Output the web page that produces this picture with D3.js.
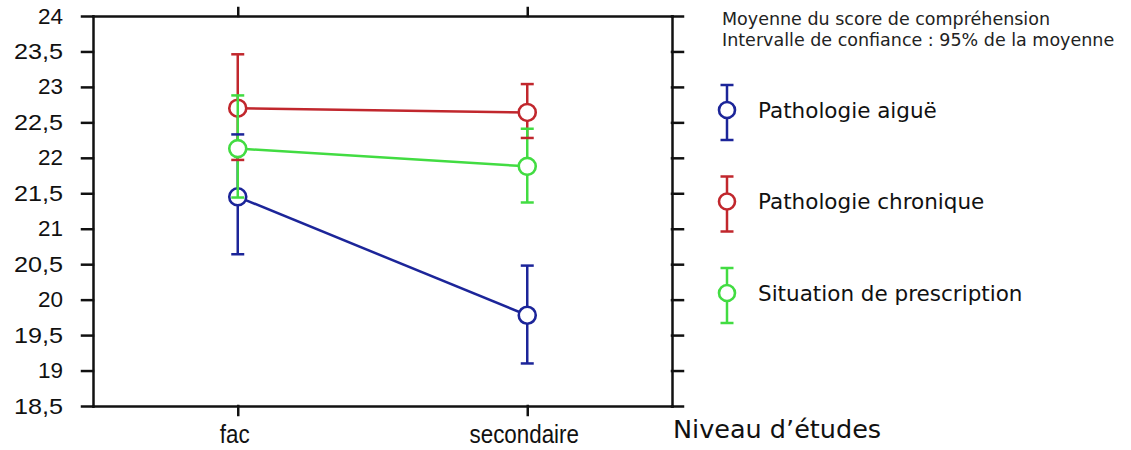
<!DOCTYPE html>
<html>
<head>
<meta charset="utf-8">
<script src="https://cdn.jsdelivr.net/npm/d3@7"></script>
<style>
body { margin: 0; background: #fff; }
.axis path, .axis line { stroke: #111; stroke-width: 2.5; stroke-linecap: square; }
</style>
</head>
<body>
<div id="chart"></div>
<script>
var categories = ["fac", "secondaire"];
var seriesNames = ["Pathologie aiguë", "Pathologie chronique", "Situation de prescription"];

// moyennes et bornes de l'intervalle de confiance a 95%
var aigueMean = [21.45, 19.78];
var aigueLow = [20.64, 19.1];
var aigueHigh = [22.33, 20.48];
var chroniqueMean = [22.7, 22.64];
var chroniqueLow = [21.97, 22.28];
var chroniqueHigh = [23.46, 23.04];
var prescriptionMean = [22.13, 21.88];
var prescriptionLow = [21.44, 21.37];
var prescriptionHigh = [22.88, 22.41];

var yTicks = [18.5, 19, 19.5, 20, 20.5, 21, 21.5, 22, 22.5, 23, 23.5, 24];
var yTickLabels = ["18,5", "19", "19,5", "20", "20,5", "21", "21,5", "22", "22,5", "23", "23,5", "24"];
var legendTitle = ["Moyenne du score de compréhension", "Intervalle de confiance : 95% de la moyenne"];
var xTitle = "Niveau d’études";

var colors = ["#1c2599", "#c1272d", "#42dc42"];

var series = [
  { name: seriesNames[0], mean: aigueMean, low: aigueLow, high: aigueHigh, color: colors[0] },
  { name: seriesNames[1], mean: chroniqueMean, low: chroniqueLow, high: chroniqueHigh, color: colors[1] },
  { name: seriesNames[2], mean: prescriptionMean, low: prescriptionLow, high: prescriptionHigh, color: colors[2] }
];

var svgWidth = 1131;
var svgHeight = 450;
var plot = { left: 93, right: 672, top: 16, bottom: 406 };

var svg = d3.select("#chart")
  .append("svg")
  .attr("width", svgWidth)
  .attr("height", svgHeight)
  .style("font-family", "'Liberation Sans', Arial, sans-serif");

var x = d3.scalePoint()
  .domain(categories)
  .range([plot.left, plot.right])
  .padding(0.5);

var y = d3.scaleLinear()
  .domain([18.5, 24])
  .range([plot.bottom, plot.top]);

// cadre : quatre axes
svg.append("g")
  .attr("class", "axis")
  .attr("transform", `translate(${plot.left}, 0)`)
  .call(d3.axisLeft(y).tickValues(yTicks).tickSize(11).tickSizeOuter(0).tickPadding(19)
    .tickFormat((d, i) => yTickLabels[i]))
  .call(g => g.selectAll("text")
    .attr("fill", "#111")
    .style("font-size", "22px")
    .attr("textLength", d => String(d).length > 2 ? 49 : 25)
    .attr("lengthAdjust", "spacingAndGlyphs"));

svg.append("g")
  .attr("class", "axis")
  .attr("transform", `translate(${plot.right}, 0)`)
  .call(d3.axisRight(y).tickValues(yTicks).tickSize(11).tickSizeOuter(0).tickFormat(""));

svg.append("g")
  .attr("class", "axis")
  .attr("transform", `translate(0, ${plot.top})`)
  .call(d3.axisTop(x).tickSize(8).tickSizeOuter(0).tickFormat(""));

svg.append("g")
  .attr("class", "axis")
  .attr("transform", `translate(0, ${plot.bottom})`)
  .call(d3.axisBottom(x).tickSize(9).tickSizeOuter(0).tickFormat(""));

svg.selectAll(".axis .domain").attr("fill", "none");

// etiquettes des categories, police un peu etroite
svg.selectAll(".xlabel")
  .data(categories)
  .enter()
  .append("text")
  .attr("class", "xlabel")
  .attr("x", d => x(d) - 3)
  .attr("y", 443)
  .attr("text-anchor", "middle")
  .attr("fill", "#111")
  .style("font-size", "26px")
  .text(d => d)
  .each(function() {
    var w = this.getComputedTextLength();
    d3.select(this)
      .attr("textLength", w * 0.86)
      .attr("lengthAdjust", "spacingAndGlyphs");
  });

svg.append("text")
  .attr("x", 673)
  .attr("y", 438)
  .attr("fill", "#111")
  .style("font-family", "'DejaVu Sans', Verdana, sans-serif")
  .style("font-size", "25.5px")
  .text(xTitle);

// series : lignes, barres d'erreur, cercles
var capW = 6.5;
var lineGen = d3.line()
  .x((d, i) => x(categories[i]))
  .y(d => y(d));

series.forEach(function(s) {
  var g = svg.append("g");
  g.append("path")
    .attr("d", lineGen(s.mean))
    .attr("fill", "none")
    .attr("stroke", s.color)
    .attr("stroke-width", 2.5);

  g.selectAll(".bar")
    .data(categories)
    .enter()
    .append("line")
    .attr("x1", d => x(d))
    .attr("x2", d => x(d))
    .attr("y1", (d, i) => y(s.low[i]))
    .attr("y2", (d, i) => y(s.high[i]))
    .attr("stroke", s.color)
    .attr("stroke-width", 2.5);

  g.selectAll("circle")
    .data(categories)
    .enter()
    .append("circle")
    .attr("cx", d => x(d))
    .attr("cy", (d, i) => y(s.mean[i]))
    .attr("r", 8.5)
    .attr("fill", "#fff")
    .attr("stroke", s.color)
    .attr("stroke-width", 2.6);
});

// les traits des barres par-dessus
series.forEach(function(s) {
  categories.forEach(function(c, i) {
    [s.low[i], s.high[i]].forEach(function(v) {
      svg.append("line")
        .attr("x1", x(c) - capW)
        .attr("x2", x(c) + capW)
        .attr("y1", y(v))
        .attr("y2", y(v))
        .attr("stroke", s.color)
        .attr("stroke-width", 2.5);
    });
  });
});

// legende
var legend = svg.append("g")
  .style("font-family", "'DejaVu Sans', Verdana, sans-serif");

legend.selectAll(".title")
  .data(legendTitle)
  .enter()
  .append("text")
  .attr("x", 722)
  .attr("y", (d, i) => 25 + i * 21)
  .attr("fill", "#222")
  .style("font-size", "17.5px")
  .text(d => d);

var item = legend.selectAll(".item")
  .data(series)
  .enter()
  .append("g")
  .attr("transform", (d, i) => `translate(727, ${110 + i * 91.5})`);

item.append("line")
  .attr("y1", -25).attr("y2", 30)
  .attr("stroke", d => d.color).attr("stroke-width", 2.5);
item.append("line")
  .attr("x1", -capW).attr("x2", capW).attr("y1", -25).attr("y2", -25)
  .attr("stroke", d => d.color).attr("stroke-width", 2.5);
item.append("line")
  .attr("x1", -capW).attr("x2", capW).attr("y1", 30).attr("y2", 30)
  .attr("stroke", d => d.color).attr("stroke-width", 2.5);
item.append("circle")
  .attr("r", 8)
  .attr("fill", "#fff")
  .attr("stroke", d => d.color)
  .attr("stroke-width", 2.6);
item.append("text")
  .attr("x", 31)
  .attr("y", 7.5)
  .attr("fill", "#111")
  .style("font-size", "21.5px")
  .text(d => d.name);
</script>
</body>
</html>
